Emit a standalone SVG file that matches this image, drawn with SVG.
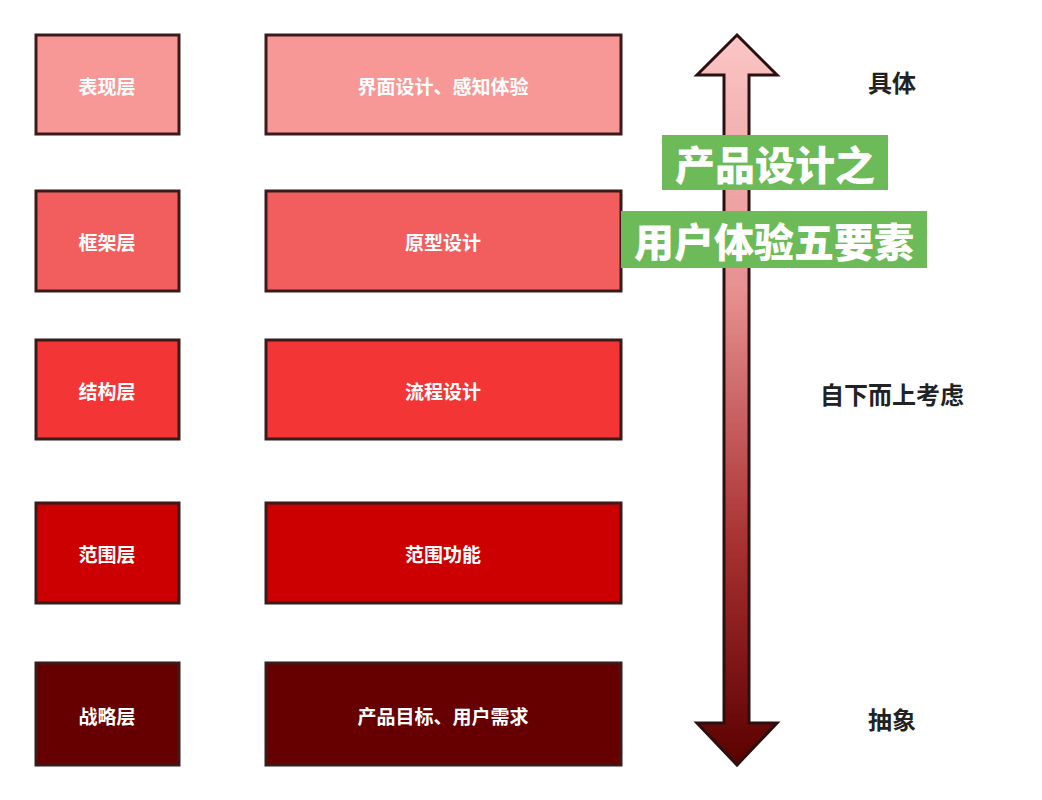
<svg xmlns="http://www.w3.org/2000/svg" width="1042" height="800" viewBox="0 0 1042 800">
<defs>
<linearGradient id="ag" x1="0" y1="0" x2="0" y2="1">
<stop offset="0" stop-color="#fbc6c6"/>
<stop offset="0.35" stop-color="#e79090"/>
<stop offset="0.7" stop-color="#a83030"/>
<stop offset="1" stop-color="#5a0000"/>
</linearGradient>
<style>
.b{stroke:#3a1a1a;stroke-width:3}
.t{font-family:"Noto Sans CJK SC","Noto Sans",sans-serif;font-size:19px;font-weight:bold;fill:#fff;text-anchor:middle;dominant-baseline:central}
.g{fill:#6cba58}
.gt{font-family:"Noto Sans CJK SC",sans-serif;font-size:40px;font-weight:900;fill:#fff;text-anchor:middle;dominant-baseline:central}
.r{font-family:"Noto Sans CJK SC",sans-serif;font-size:24px;font-weight:bold;fill:#222;text-anchor:middle;dominant-baseline:central}
</style>
</defs>
<rect width="1042" height="800" fill="#fff"/>
<g id="row1"><rect class="b" x="36" y="35" width="143" height="99" fill="#f79896"/><text class="t" x="107" y="85">表现层</text><rect class="b" x="266" y="35" width="355" height="99" fill="#f79896"/><text class="t" x="443" y="85">界面设计、感知体验</text></g>
<g id="row2"><rect class="b" x="36" y="191" width="143" height="100" fill="#f25e5e"/><text class="t" x="107" y="241">框架层</text><rect class="b" x="266" y="191" width="355" height="100" fill="#f25e5e"/><text class="t" x="443" y="241">原型设计</text></g>
<g id="row3"><rect class="b" x="36" y="340" width="143" height="99" fill="#f33535"/><text class="t" x="107" y="390">结构层</text><rect class="b" x="266" y="340" width="355" height="99" fill="#f33535"/><text class="t" x="443" y="390">流程设计</text></g>
<g id="row4"><rect class="b" x="36" y="503" width="143" height="100" fill="#cc0000"/><text class="t" x="107" y="553">范围层</text><rect class="b" x="266" y="503" width="355" height="100" fill="#cc0000"/><text class="t" x="443" y="553">范围功能</text></g>
<g id="row5"><rect class="b" x="36" y="663" width="143" height="102" fill="#660000"/><text class="t" x="107" y="715">战略层</text><rect class="b" x="266" y="663" width="355" height="102" fill="#660000"/><text class="t" x="443" y="715">产品目标、用户需求</text></g>
<g id="connectors">
<path d="M737,35 L777,75 L749,75 L749,723 L777,723 L737,765 L697,723 L724,723 L724,75 L697,75 Z" fill="url(#ag)" stroke="#2a1010" stroke-width="3" stroke-linejoin="miter"/>
</g>
<g id="title">
<rect class="g" x="662" y="135" width="226" height="55"/><text class="gt" x="775" y="163">产品设计之</text>
<rect class="g" x="621" y="211" width="306" height="57"/><text class="gt" x="774" y="240">用户体验五要素</text>
</g>
<g id="labels">
<text class="r" x="892" y="81">具体</text>
<text class="r" x="892" y="393">自下而上考虑</text>
<text class="r" x="892" y="718">抽象</text>
</g>
</svg>
